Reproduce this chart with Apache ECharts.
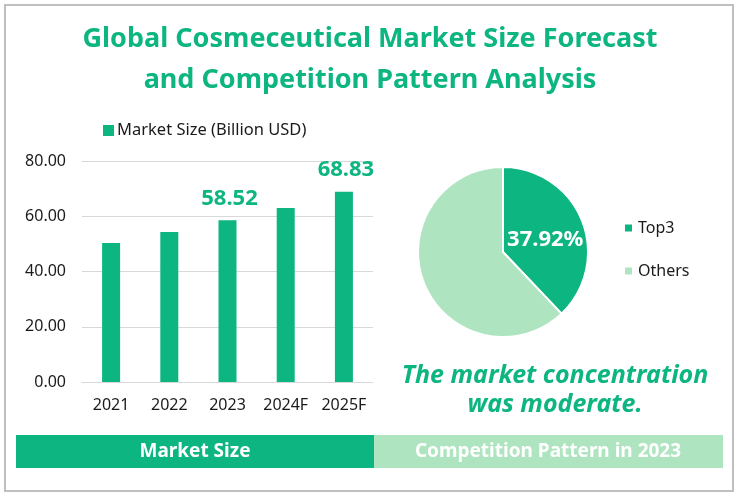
<!DOCTYPE html>
<html>
<head>
<meta charset="utf-8">
<title>Global Cosmeceutical Market</title>
<script src="https://cdn.jsdelivr.net/npm/echarts@6/dist/echarts.min.js"></script>
<style>
html, body { margin: 0; padding: 0; background: #fff; }
#chart { width: 739px; height: 497px; }
</style>
</head>
<body>
<div id="chart"></div>
<script>
var years = ['2021', '2022', '2023', '2024F', '2025F'];
var marketSize = [50.3, 54.3, 58.52, 63.0, 68.83];
var labelledYears = ['2023', '2025F'];
var yTicks = [0, 20, 40, 60, 80];
var shareNames = ['Top3', 'Others'];
var shareValues = [37.92, 62.08];
var titleText = 'Global Cosmeceutical Market Size Forecast\nand Competition Pattern Analysis';
var noteText = 'The market concentration\nwas moderate.';
var bannerLeft = 'Market Size';
var bannerRight = 'Competition Pattern in 2023';

var GREEN = '#0db580';
var LIGHT = '#aee5c0';
var FONT = '"Noto Sans", "Open Sans", sans-serif';

var myChart = echarts.init(document.getElementById('chart'));

myChart.setOption({
    animation: false,
    backgroundColor: '#fff',
    textStyle: { fontFamily: FONT },
    title: {
        text: titleText,
        left: 365,
        top: 14,
        textAlign: 'center',
        textStyle: { color: GREEN, fontSize: 27, fontWeight: 'bold', lineHeight: 41, fontFamily: FONT }
    },
    legend: [{
        data: ['Market Size (Billion USD)'],
        left: 98,
        top: 117,
        icon: 'rect',
        itemWidth: 11,
        itemHeight: 11,
        itemGap: 4,
        textStyle: { color: '#1a1a1a', fontSize: 16.5, fontFamily: FONT, padding: [0, 0, 0, -2] }
    }, {
        data: shareNames,
        orient: 'vertical',
        left: 618,
        top: 215,
        icon: 'rect',
        itemWidth: 9,
        itemHeight: 9,
        itemGap: 27,
        textStyle: { color: '#1a1a1a', fontSize: 16, fontFamily: FONT }
    }],
    grid: { left: 82, top: 161, width: 291, height: 221 },
    xAxis: {
        type: 'category',
        data: years,
        axisTick: { show: false },
        axisLine: { lineStyle: { color: '#d9d9d9' } },
        axisLabel: { color: '#1a1a1a', fontSize: 16, margin: 15, interval: 0, fontFamily: FONT }
    },
    yAxis: {
        type: 'value',
        min: yTicks[0],
        max: yTicks[yTicks.length - 1],
        interval: 20,
        axisLine: { show: false },
        axisTick: { show: false },
        splitLine: { lineStyle: { color: '#d9d9d9' } },
        axisLabel: {
            color: '#1a1a1a',
            fontSize: 16,
            margin: 16,
            fontFamily: FONT,
            formatter: function (v) { return v.toFixed(2); }
        }
    },
    series: [{
        name: 'Market Size (Billion USD)',
        type: 'bar',
        barWidth: 18,
        itemStyle: { color: GREEN },
        data: marketSize,
        label: {
            show: true,
            position: 'top',
            distance: 11,
            offset: [2, 0],
            color: GREEN,
            fontSize: 22,
            fontWeight: 'bold',
            fontFamily: FONT,
            formatter: function (p) {
                return labelledYears.indexOf(p.name) >= 0 ? p.value.toFixed(2) : '';
            }
        }
    }, {
        type: 'pie',
        center: [503, 252],
        radius: [0, 85],
        startAngle: 90,
        clockwise: true,
        itemStyle: { borderColor: '#fff', borderWidth: 2 },
        labelLine: { show: false },
        emphasis: { disabled: true },
        data: [{
            name: shareNames[0],
            value: shareValues[0],
            itemStyle: { color: GREEN },
            label: {
                show: true,
                position: 'inside',
                formatter: function (p) { return p.value.toFixed(2) + '%'; },
                color: '#fff',
                fontSize: 22,
                fontWeight: 'bold',
                fontFamily: FONT,
                offset: [0, 5]
            }
        }, {
            name: shareNames[1],
            value: shareValues[1],
            itemStyle: { color: LIGHT },
            label: { show: false }
        }]
    }],
    graphic: [
        { type: 'rect', z: -1, shape: { x: 5, y: 5, width: 728, height: 486 }, style: { fill: 'none', stroke: '#bfbfbf', lineWidth: 2 } },
        { type: 'rect', shape: { x: 16, y: 435, width: 358, height: 33 }, style: { fill: GREEN } },
        { type: 'rect', shape: { x: 374, y: 435, width: 349, height: 33 }, style: { fill: LIGHT } },
        { type: 'text', x: 195, y: 452, style: { text: bannerLeft, fill: '#fff', font: 'bold 19px ' + FONT, align: 'center', verticalAlign: 'middle' } },
        { type: 'text', x: 548, y: 452, style: { text: bannerRight, fill: '#fff', font: 'bold 19px ' + FONT, align: 'center', verticalAlign: 'middle' } },
        { type: 'text', x: 555, y: 390, style: { text: noteText, fill: GREEN, font: 'italic bold 25px ' + FONT, lineHeight: 29, align: 'center', verticalAlign: 'middle' } }
    ]
});
</script>
</body>
</html>
